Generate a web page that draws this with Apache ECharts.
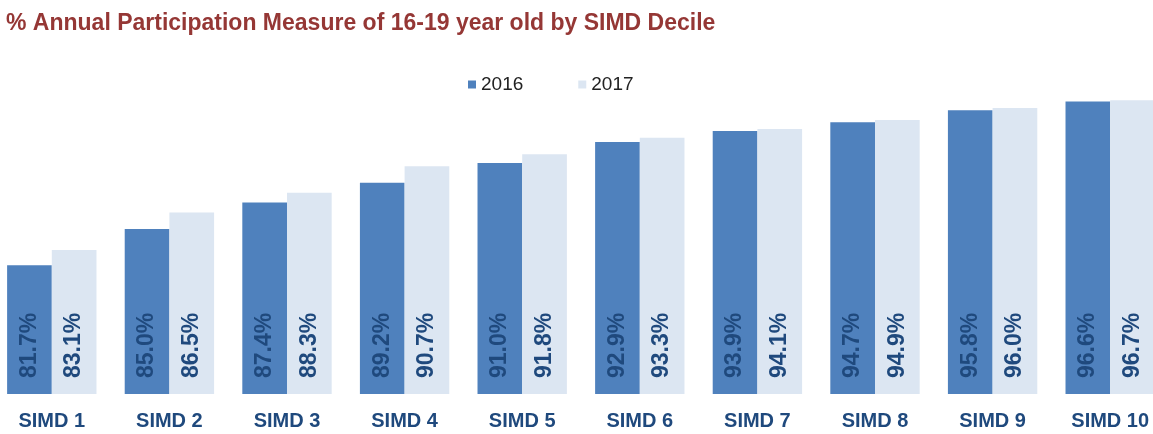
<!DOCTYPE html>
<html>
<head>
<meta charset="utf-8">
<script src="https://cdn.jsdelivr.net/npm/echarts@6/dist/echarts.min.js"></script>
<style>
html,body{margin:0;padding:0;background:#fff;overflow:hidden;width:1153px;height:434px;}
#chart{position:absolute;left:-7px;top:0;width:1176px;height:434px;}
</style>
</head>
<body>
<div id="chart"></div>
<script>
const titleText = '% Annual Participation Measure of 16-19 year old by SIMD Decile';
const categories = ['SIMD 1','SIMD 2','SIMD 3','SIMD 4','SIMD 5','SIMD 6','SIMD 7','SIMD 8','SIMD 9','SIMD 10'];
const seriesNames = ['2016','2017'];
const values2016 = [81.7, 85.0, 87.4, 89.2, 91.0, 92.9, 93.9, 94.7, 95.8, 96.6];
const values2017 = [83.1, 86.5, 88.3, 90.7, 91.8, 93.3, 94.1, 94.9, 96.0, 96.7];

const font = '"Liberation Sans", Arial, sans-serif';

const labelCfg = {
  show: true,
  position: 'insideBottom',
  rotate: 90,
  align: 'left',
  verticalAlign: 'middle',
  distance: 16,
  color: '#1F497D',
  fontFamily: font,
  fontWeight: 'bold',
  fontSize: 23,
  formatter: p => p.value.toFixed(1) + '%'
};

const chart = echarts.init(document.getElementById('chart'), null, {renderer: 'canvas'});
chart.setOption({
  animation: false,
  title: {
    text: titleText,
    left: 8,
    top: 7,
    textStyle: {color: '#953735', fontFamily: font, fontWeight: 'bold', fontSize: 23}
  },
  legend: {
    data: seriesNames,
    left: 470,
    top: 70,
    icon: 'rect',
    itemWidth: 8,
    itemHeight: 8,
    itemGap: 55,
    textStyle: {color: '#222', fontFamily: font, fontSize: 19}
  },
  grid: {left: 0, right: 0, top: 64, bottom: 40, containLabel: false},
  xAxis: {
    type: 'category',
    data: categories,
    axisLine: {show: false},
    axisTick: {show: false},
    axisLabel: {interval: 0, color: '#1F497D', fontFamily: font, fontWeight: 'bold', fontSize: 20, margin: 17}
  },
  yAxis: {
    type: 'value',
    min: 70,
    max: 100,
    show: false,
    splitLine: {show: false}
  },
  series: [
    {name: seriesNames[0], type: 'bar', data: values2016, barGap: '0%', barCategoryGap: '24%',
     itemStyle: {color: '#4F81BD'}, label: labelCfg},
    {name: seriesNames[1], type: 'bar', data: values2017, barGap: '0%', barCategoryGap: '24%',
     itemStyle: {color: '#DCE6F2'}, label: labelCfg}
  ]
});
</script>
</body>
</html>
